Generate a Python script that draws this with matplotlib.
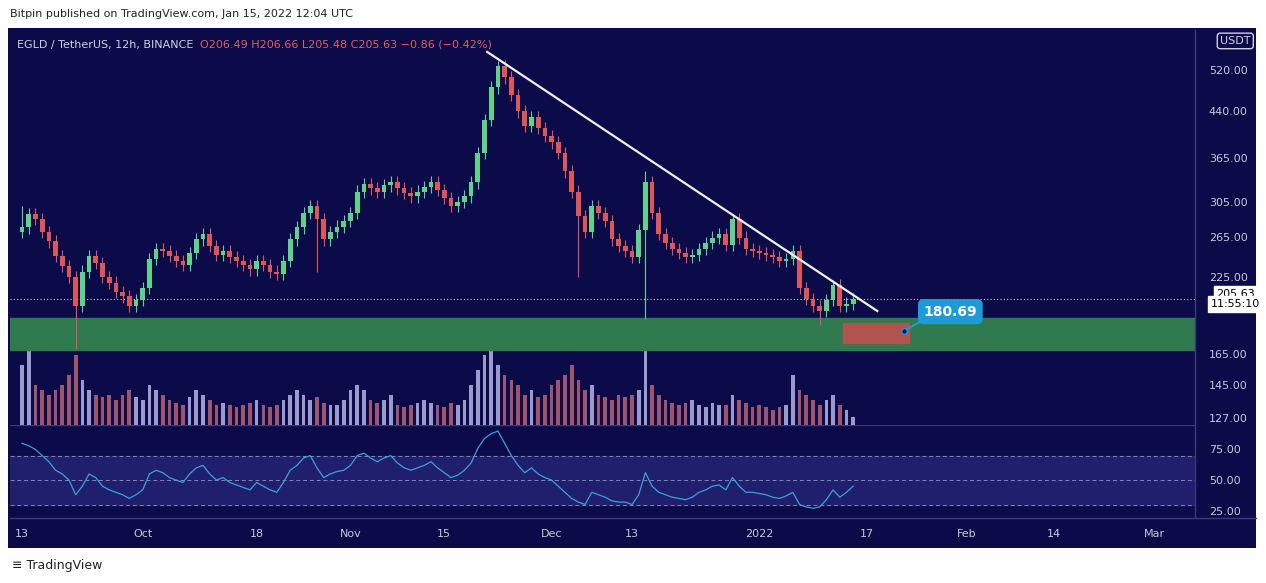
import matplotlib
matplotlib.use("Agg")
import matplotlib.pyplot as plt
import numpy as np
from matplotlib.patches import Rectangle

# ---- data (daily approximation of 12h candles, day 0 = 2021-09-13) ----
closes = [275,290,285,270,260,245,235,225,200,230,
          245,238,225,220,212,208,200,205,215,242,
          252,250,245,240,236,248,262,268,255,246,
          250,244,240,236,232,240,236,230,228,240,
          262,275,292,300,285,262,270,276,282,292,
          318,328,322,318,326,330,322,316,312,318,
          324,330,320,310,300,305,312,330,372,425,
          485,528,505,470,440,415,430,412,398,388,
          372,345,318,288,270,300,292,282,262,255,
          250,244,272,330,292,268,258,252,248,244,
          246,252,258,264,268,256,284,264,252,250,
          248,246,244,240,242,250,215,206,200,196,
          205,218,200,202,205.63]
wick_high = {93: 345, 71: 540, 121: 222, 0: 300, 106: 290}
wick_low = {8: 168, 83: 225, 44: 230, 93: 190, 119: 185}
volumes = [60,85,40,35,30,35,40,50,70,45,
           35,30,28,30,25,30,35,28,25,40,
           35,30,25,22,20,28,35,30,25,20,
           22,20,18,20,22,25,20,18,20,25,
           30,35,30,25,28,22,20,20,25,35,
           40,35,25,22,25,30,20,18,20,22,
           25,22,20,18,22,20,25,40,55,70,
           78,60,50,45,40,30,35,28,30,40,
           45,50,60,45,35,40,30,28,25,30,
           28,30,35,100,40,30,25,22,20,22,
           25,20,18,22,20,20,30,25,22,18,
           20,18,15,18,20,50,35,30,25,20,
           25,30,20,15,8]
rsi = [80,78,75,70,65,58,55,50,38,45,
       55,52,45,42,40,38,35,38,42,55,
       58,56,52,50,48,55,60,62,55,50,
       52,48,46,44,42,48,45,42,40,48,
       58,62,68,70,60,52,55,57,58,62,
       70,72,68,65,68,70,64,60,58,60,
       62,65,60,56,52,54,58,64,76,84,
       88,90,80,70,62,56,60,55,52,50,
       45,40,35,32,30,40,38,36,33,32,
       32,30,38,56,45,40,38,36,35,34,
       36,40,42,45,46,42,52,45,40,40,
       39,38,36,35,37,40,30,28,27,28,
       34,42,36,40,45]
price_ticks = [127, 145, 165, 225, 265, 305, 365, 440, 520]
xtick_days = [0, 18, 35, 49, 63, 79, 91, 110, 126, 141, 154, 169]
xtick_labels = ["13", "Oct", "18", "Nov", "15", "Dec", "13", "2022", "17", "Feb", "14", "Mar"]
zone_green = (167.5, 190.6)
zone_red = (122.5, 132.4, 172, 187)
trend = ((69.4, 560), (127.6, 196))
last_price = 205.63

BG = "#0b0b4a"
UP = "#5fd38a"
DN = "#e05656"

fig = plt.figure(figsize=(12.66, 5.83), dpi=100)
fig.patch.set_facecolor("white")
W, H = 1266, 583
def ax_rect(x0, y0, x1, y1):
    return [x0 / W, 1 - y1 / H, (x1 - x0) / W, (y1 - y0) / H]

bgax = fig.add_axes(ax_rect(8, 28, 1256, 548))
bgax.set_facecolor(BG); bgax.set_xticks([]); bgax.set_yticks([])
for s in bgax.spines.values(): s.set_visible(False)

ax = fig.add_axes(ax_rect(10, 30, 1195, 425))
vax = ax.twinx()
n = len(closes)
days = np.arange(n)
opens = [closes[0] - 5] + closes[:-1]

vcols = ["#9a9acc" if closes[i] >= opens[i] else "#a0566a" for i in days]
vax.bar(days, volumes, width=0.55, color=vcols, zorder=1)
vax.set_ylim(0, 395)
vax.set_yticks([])
for s in vax.spines.values(): s.set_visible(False)
vax.set_zorder(0); ax.set_zorder(1); ax.patch.set_visible(False)
vax.patch.set_visible(True); vax.patch.set_facecolor(BG)

for i in days:
    o, c = opens[i], closes[i]
    col = UP if c >= o else DN
    hi = wick_high.get(i, max(o, c) * 1.025)
    lo = wick_low.get(i, min(o, c) * 0.975)
    ax.vlines(i, lo, hi, color=col, lw=0.8, zorder=3)
    ax.add_patch(Rectangle((i - 0.35, min(o, c)), 0.7, max(abs(c - o), 0.8),
                           color=col, zorder=4, lw=0))
ax.set_yscale("log")
ax.set_xlim(-1.8, 175)
ax.set_ylim(123.5, 612)
ax.axhspan(*zone_green, color="#2f7a4f", zorder=2)
ax.add_patch(Rectangle((zone_red[0], zone_red[2]), zone_red[1] - zone_red[0],
                       zone_red[3] - zone_red[2], color="#c0504d", zorder=5, alpha=0.9))
ax.plot([trend[0][0], trend[1][0]], [trend[0][1], trend[1][1]], color="#f0f0f0", lw=1.6, zorder=6)
ax.axhline(last_price, color="#cccccc", lw=0.8, ls=(0, (1, 2)), zorder=2)
ax.plot([131.6, 135], [181, 190.5], color="#1e9bd7", lw=1.5, zorder=7)
ax.plot([131.6], [181], "o", ms=4, mfc="#0b0b4a", mec="#1e9bd7", zorder=8)
ax.text(138.5, 195.5, "180.69", ha="center", va="center", color="white", fontsize=10,
        fontweight="bold", zorder=9,
        bbox=dict(boxstyle="round,pad=0.35", fc="#1e9bd7", ec="#1e9bd7"))
ax.yaxis.tick_right()
ax.yaxis.set_label_position("right")
ax.set_yticks(price_ticks)
ax.set_yticklabels([f"{t:.2f}" for t in price_ticks])
ax.yaxis.set_minor_locator(matplotlib.ticker.NullLocator())
ax.tick_params(axis="y", colors="#c8c8d8", labelsize=8, length=0, pad=10,
               left=False, labelleft=False, right=False, labelright=True)
ax.set_xticks([])
for s in ax.spines.values(): s.set_visible(False)
ax.text(0.006, 0.975, "EGLD / TetherUS, 12h, BINANCE", transform=ax.transAxes,
        color="#d0d0e0", fontsize=8, va="top")
ax.text(0.160, 0.975, "O206.49 H206.66 L205.48 C205.63 −0.86 (−0.42%)", transform=ax.transAxes,
        color="#e06060", fontsize=8, va="top")
ax.text(1.0345, last_price, "205.63", transform=ax.get_yaxis_transform(), color="black",
        fontsize=8, va="bottom", ha="center",
        bbox=dict(boxstyle="square,pad=0.25", fc="white", ec="white"))
ax.text(1.0345, last_price, "11:55:10", transform=ax.get_yaxis_transform(), color="black",
        fontsize=8, va="top", ha="center",
        bbox=dict(boxstyle="square,pad=0.25", fc="white", ec="white"))
ax.text(1.034, 0.985, "USDT", transform=ax.transAxes, color="#d0d0e0", fontsize=8,
        va="top", ha="center", bbox=dict(boxstyle="round,pad=0.25", fc=BG, ec="#d0d0e0"))

rax = fig.add_axes(ax_rect(10, 425, 1195, 518))
rax.set_facecolor(BG)
rax.axhspan(30, 70, color="#1f1f6e")
for v in (30, 50, 70):
    rax.axhline(v, color="#8888aa", lw=0.7, ls=(0, (4, 3)))
rax.plot(days, rsi, color="#3aa0de", lw=0.9)
rax.set_xlim(-1.8, 175)
rax.set_ylim(19, 95)
rax.set_yticks([25, 50, 75])
rax.set_yticklabels(["25.00", "50.00", "75.00"])
rax.yaxis.tick_right()
rax.tick_params(axis="y", colors="#c8c8d8", labelsize=8, length=0, pad=10)
rax.set_xticks(xtick_days)
rax.set_xticklabels(xtick_labels)
rax.tick_params(axis="x", colors="#c8c8d8", labelsize=8, length=0, pad=8)
for s in rax.spines.values(): s.set_visible(False)
rax.axhline(95, color="#3a3a7a", lw=1)

fig.add_artist(plt.Line2D([1195 / W] * 2, [1 - 518 / H, 1 - 30 / H], color="#3a3a7a", lw=1))
fig.add_artist(plt.Line2D([10 / W, 1256 / W], [1 - 518 / H] * 2, color="#3a3a7a", lw=1))

fig.text(10 / W, 1 - 14 / H, "Bitpin published on TradingView.com, Jan 15, 2022 12:04 UTC",
         fontsize=8, va="center", color="#222222")
fig.text(12 / W, 1 - 566 / H, "\u2261 TradingView", fontsize=9, va="center", color="#222222")

fig.savefig("out.png", dpi=100, facecolor="white")
